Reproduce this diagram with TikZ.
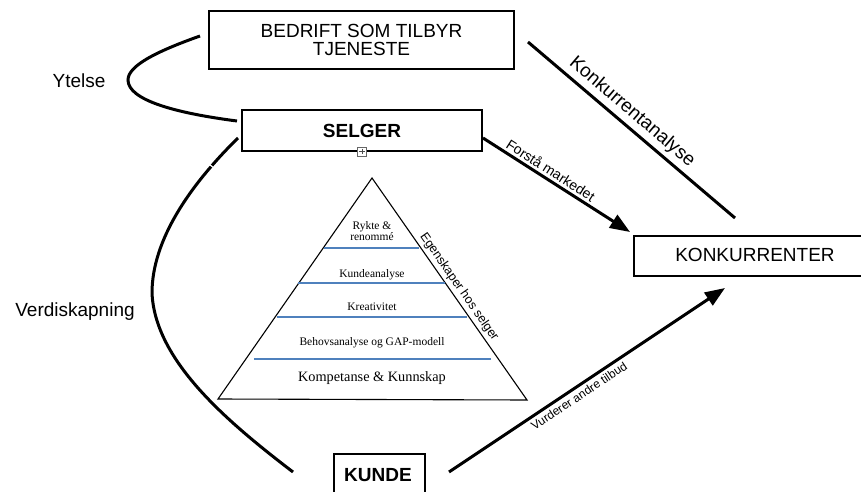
\documentclass[tikz,border=0pt]{standalone}
\usepackage{fontspec}
\setmainfont{Liberation Sans}
\newfontfamily\pyrfont{Liberation Serif}
\usetikzlibrary{arrows.meta,calc}
\definecolor{pyrblue}{RGB}{79,129,189}
\tikzset{
  box/.style={draw=black, line width=2pt, fill=white, inner sep=0pt},
  conn/.style={line width=3pt, line cap=butt},
  arr/.style={conn, -{Triangle[length=20pt,width=15pt]}},
  lbl/.style={font=\fontsize{19}{21}\selectfont},
  pyrtxt/.style={font=\pyrfont\fontsize{11.5}{13}\selectfont, align=center},
  tier/.style={draw=pyrblue, line width=1.3pt},
}
\begin{document}
\begin{tikzpicture}[x=1pt,y=-1pt]
\useasboundingbox (0,0) rectangle (861,492);
% boxes
\node[box, minimum width=305pt, minimum height=58pt, align=center, lbl] (bedrift) at (361.5,40) {BEDRIFT SOM TILBYR\\[-3pt]TJENESTE};
\node[box, minimum width=240pt, minimum height=41pt, lbl, font=\bfseries\fontsize{19}{21}\selectfont] (selger) at (362,130.5) {SELGER};
\node[draw=black!60, line width=0.8pt, fill=white, minimum size=9pt, inner sep=0pt] (icon) at (362,151.5) {};
\draw[black!70, line width=0.8pt] ($(icon.west)+(2,0)$) -- ($(icon.east)+(-2,0)$) ($(icon.north)+(0,2)$) -- ($(icon.south)+(0,-2)$);
\begin{scope}
\clip (0,0) rectangle (861,492);
\node[box, minimum width=240pt, minimum height=40pt, anchor=north west] (konk) at (633,235) {};
\node[box, minimum width=91pt, minimum height=50pt, anchor=north west] (kunde) at (333,453) {};
\end{scope}
\node[lbl] (konktxt) at (755,255) {KONKURRENTER};
\node[lbl, font=\bfseries\fontsize{19}{21}\selectfont] (kundetxt) at (378,475) {KUNDE};
% pyramid
\coordinate (apex) at (372,178);
\coordinate (bl) at (218,399);
\coordinate (br) at (527,400);
\draw[line width=1.1pt, fill=white] (apex) -- (bl) -- (br) -- cycle;
\draw[tier] (324,248) -- (419,248);
\draw[tier] (298,283) -- (445,283);
\draw[tier] (277,317) -- (467,317);
\draw[tier] (254,359) -- (491,359);
\node[pyrtxt] (t1) at (372,231) {Rykte \&\\[-2pt]renommé};
\node[pyrtxt] (t2) at (372,275) {Kundeanalyse};
\node[pyrtxt] (t3) at (372,307) {Kreativitet};
\node[pyrtxt] (t4) at (372,343) {Behovsanalyse og GAP-modell};
\node[pyrtxt, font=\pyrfont\fontsize{14.3}{16}\selectfont] (t5) at (372,378) {Kompetanse \& Kunnskap};
\node[font=\fontsize{12.5}{14}\selectfont, rotate=-55.1] (egen) at (459,287) {Egenskaper hos selger};
% labels
\node[lbl] (ytelse) at (79,81) {Ytelse};
\node[lbl] (verdi) at (75,312) {Verdiskapning};
% connectors
\coordinate (y1) at (200,36);
\coordinate (y2) at (237,121);
\draw[conn] (y1) .. controls (155,52) and (128,66) .. (128,80) .. controls (128,100) and (175,113) .. (y2);
\coordinate (v1) at (238,138);
\coordinate (v2) at (293,472);
\draw[conn] (v1) .. controls (190,185) and (152,240) .. (152,293) .. controls (155,360) and (225,420) .. (v2);
\draw[white, line width=1.2pt] (205,161) -- (214,168);
\coordinate (k1) at (528,42);
\coordinate (k2) at (735,218);
\draw[conn] (k1) -- (k2);
\node[lbl, rotate=-40.4] (kalab) at (632,112) {Konkurrentanalyse};
\coordinate (f1) at (483,138);
\coordinate (f2) at (630,232);
\draw[arr] (f1) -- (f2);
\node[font=\fontsize{14}{16}\selectfont, rotate=-32.6] (flab) at (551,170) {Forstå markedet};
\coordinate (u1) at (449,472);
\coordinate (u2) at (725,288);
\draw[arr] (u1) -- (u2);
\node[font=\fontsize{12}{14}\selectfont, rotate=33.7] (ulab) at (579,396) {Vurderer andre tilbud};
\end{tikzpicture}
\end{document}
